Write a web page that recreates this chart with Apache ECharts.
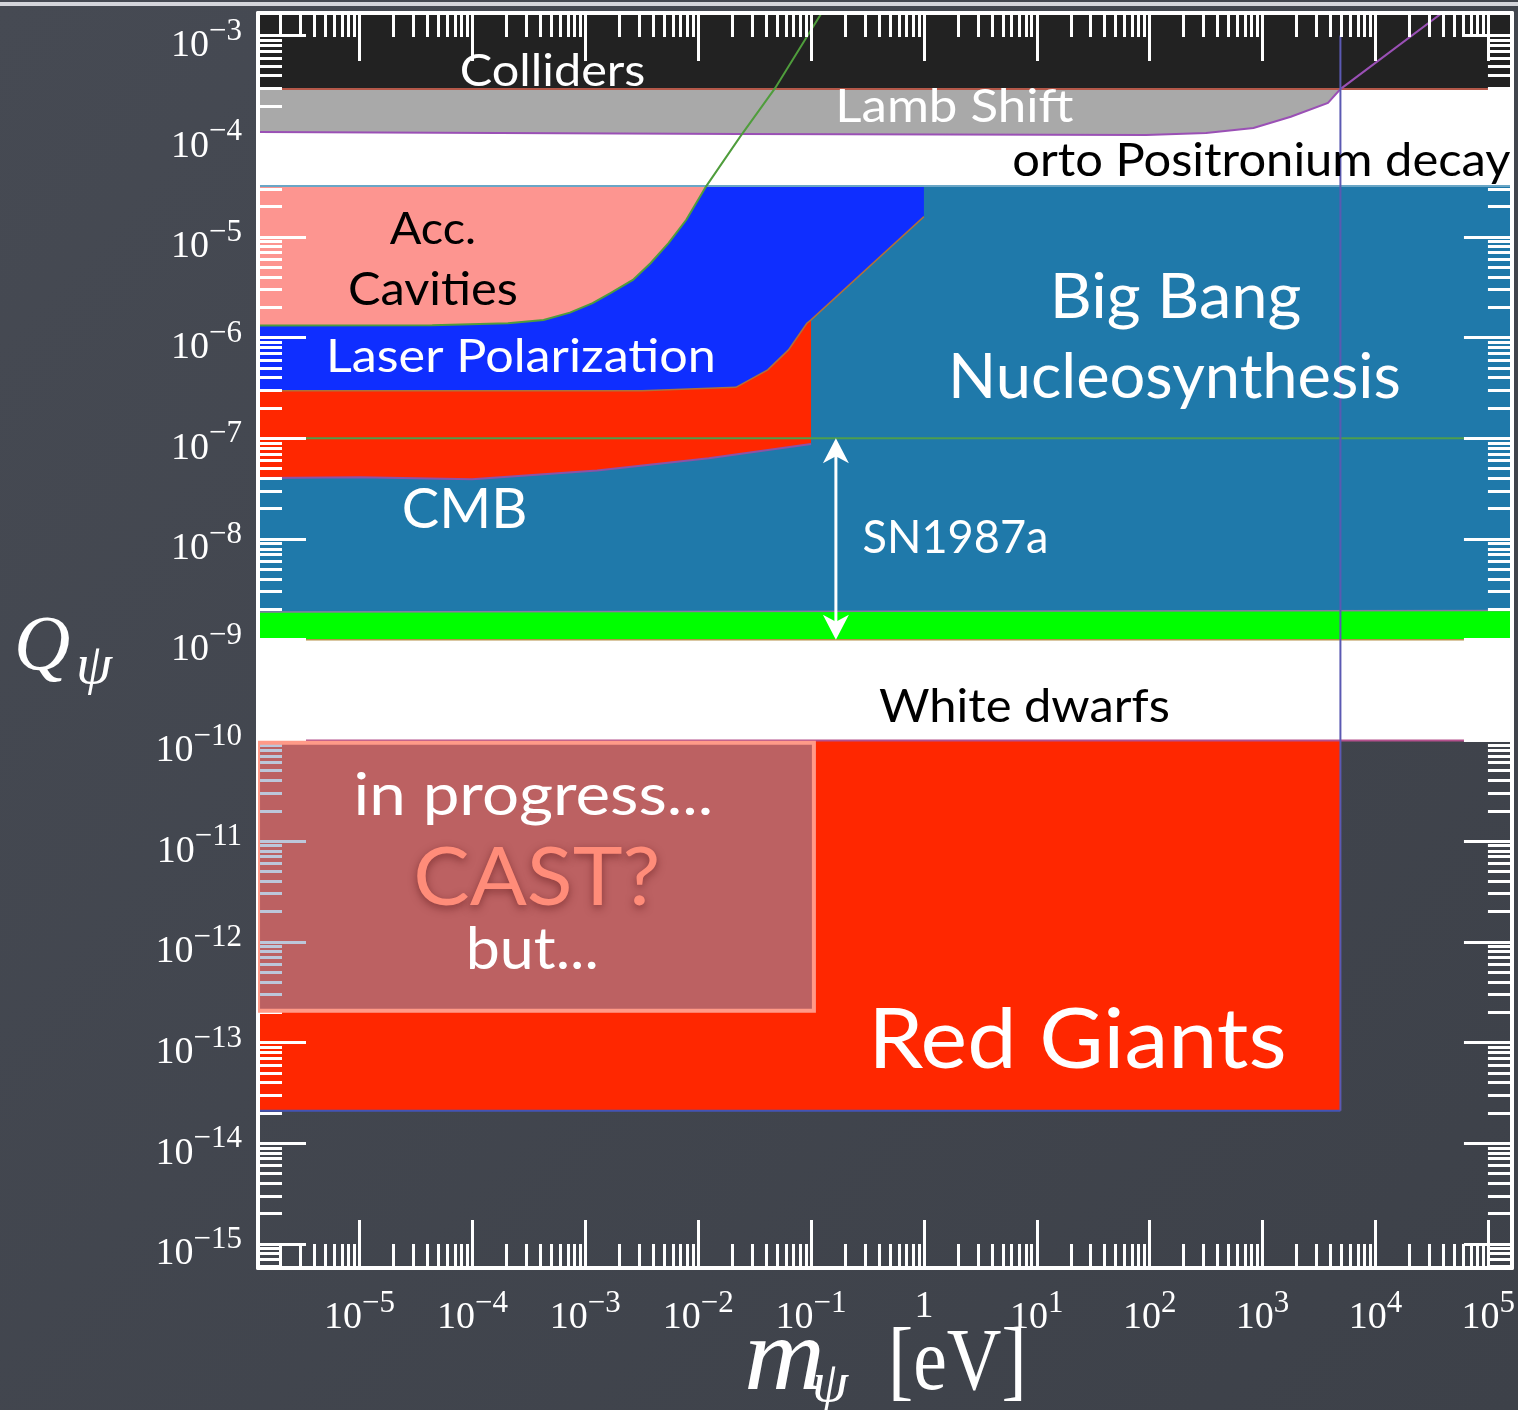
<!DOCTYPE html>
<html>
<head>
<meta charset="utf-8">
<title>Millicharged particle bounds</title>
<script src="https://cdn.jsdelivr.net/npm/echarts@6/dist/echarts.min.js"></script>
<style>
  html, body { margin: 0; padding: 0; background: #41454e; }
  #chart { width: 1518px; height: 1410px; }
</style>
</head>
<body>
<div id="chart"></div>
<script>
// Axis extents, in decades (log10 of m [eV] and of Q)
const X_MIN = -5.9, X_MAX = 5.21;
const Y_MIN = -15.24, Y_MAX = -2.776;

// Tick decades (labels are 10^k, with "1" for k = 0)
const xDecades = [-5, -4, -3, -2, -1, 0, 1, 2, 3, 4, 5];
const yDecades = [-15, -14, -13, -12, -11, -10, -9, -8, -7, -6, -5, -4, -3];

// Edges just outside the plotted range (clipped away)
const M_LEFT = 1e-6, M_RIGHT = 2e5, Q_CEIL = 2e-3;

// Colliders: excluded above this charge
const collidersQ = 2.94e-4;

// ortho-Positronium decay bound (lower edge of Lamb shift band, then a line)
const opsMass = [1e-6, 0.0234, 93, 316, 832, 1780, 3800, 4900, 4.1e4];
const opsQ    = [1.10e-4, 1.05e-4, 1.03e-4, 1.08e-4, 1.21e-4, 1.56e-4, 2.14e-4, 2.94e-4, 1.75e-3];

// Accelerator cavities bound (first 12 points close the shaded region)
const accMass = [1e-6, 4.4e-5, 2.06e-4, 4.27e-4, 7.3e-4, 1.16e-3, 1.67e-3, 2.64e-3, 3.78e-3, 5.46e-3, 7.85e-3, 0.0118, 0.0234, 0.048, 0.125];
const accQ    = [1.32e-6, 1.33e-6, 1.39e-6, 1.50e-6, 1.77e-6, 2.20e-6, 2.76e-6, 3.74e-6, 5.48e-6, 8.67e-6, 1.48e-5, 3.2e-5, 9.8e-5, 3.0e-4, 1.7e-3];

// Laser polarization bound
const laserMass = [1e-6, 3.16e-3, 0.0216, 0.0413, 0.0631, 0.0918, 0.1, 1.0];
const laserQ    = [2.96e-7, 2.96e-7, 3.21e-7, 4.78e-7, 7.55e-7, 1.39e-6, 1.5e-6, 1.59e-5];

// CMB bound (lower edge of the red band, m < 0.1 eV)
const cmbMass = [1e-6, 1.02e-5, 9.9e-5, 1.27e-3, 0.0124, 0.1];
const cmbQ    = [4.02e-8, 4.11e-8, 3.93e-8, 4.78e-8, 6.34e-8, 8.8e-8];

// Big Bang Nucleosynthesis: top of the excluded band
const bbnTopQ = 3.2e-5;

// Green band
const bandMass = [1e-6, 2e5];
const bandTopQ = [1.88e-9, 1.95e-9];
const bandBottomQ = 1e-9;

// Horizontal reference line
const refLineQ = 1e-7;

// SN1987a window (arrow)
const snMass = 0.166;
const snQ = [1e-7, 1e-9];

// White dwarfs: excluded above
const wdQ = 1e-10;

// Red giants
const rgMass = 4900;
const rgQ = [2.1e-14, 1e-10];
const rgLineQ = [1e-3, 2.1e-14];

// "in progress / CAST?" box
const castMass = [1.26e-6, 0.106];
const castQ = [2.07e-13, 9.5e-11];

const L = Math.log10;
const SERIF = "'Liberation Serif', 'DejaVu Serif', serif";
const HAND = "Lato, 'Open Sans', sans-serif";

const zip = (ms, qs) => ms.map((m, i) => [m, qs[i]]);
const ops = zip(opsMass, opsQ);
const acc = zip(accMass, accQ);
const laser = zip(laserMass, laserQ);
const cmb = zip(cmbMass, cmbQ);

function toCoords(api, pts) {
  return pts.map(p => api.coord([L(p[0]), L(p[1])]));
}

function polygonSeries(name, pts, style, z) {
  return {
    type: 'custom', name, z: z || 2, clip: true,
    data: pts.map(p => [L(p[0]), L(p[1])]),
    renderItem: (params, api) => params.dataIndex !== 0 ? null : ({
      type: 'polygon',
      shape: { points: toCoords(api, pts) },
      style
    })
  };
}

function lineSeries(name, pts, color, width, z) {
  return {
    type: 'custom', name, z: z || 3, clip: true,
    data: pts.map(p => [L(p[0]), L(p[1])]),
    renderItem: (params, api) => params.dataIndex !== 0 ? null : ({
      type: 'polyline',
      shape: { points: toCoords(api, pts) },
      style: { stroke: color, lineWidth: width, fill: null }
    })
  };
}

// Regions
const whiteRegion = [[M_LEFT, wdQ], [M_RIGHT, wdQ], [M_RIGHT, Q_CEIL], [M_LEFT, Q_CEIL]];
const bbnRegion = [[M_LEFT, bbnTopQ], [M_RIGHT, bbnTopQ], [bandMass[1], bandTopQ[1]], [bandMass[0], bandTopQ[0]]];
const bandRegion = [[bandMass[0], bandBottomQ], [bandMass[1], bandBottomQ], [bandMass[1], bandTopQ[1]], [bandMass[0], bandTopQ[0]]];
const colliderRegion = [[M_LEFT, collidersQ], [M_RIGHT, collidersQ], [M_RIGHT, Q_CEIL], [M_LEFT, Q_CEIL]];
const lambRegion = [[M_LEFT, collidersQ], [rgMass, collidersQ]].concat(ops.slice(0, 8).reverse());
const accRegion = [[M_LEFT, bbnTopQ]].concat(acc.slice(0, 12));
const laserRegion = acc.slice(0, 12).concat([[1, bbnTopQ]], laser.slice().reverse());
const redRegion = laser.slice(0, 7).concat(cmb.slice().reverse());
const rgRegion = [[M_LEFT, rgQ[0]], [rgMass, rgQ[0]], [rgMass, rgQ[1]], [M_LEFT, rgQ[1]]];
const castRegion = [[castMass[0], castQ[0]], [castMass[1], castQ[0]], [castMass[1], castQ[1]], [castMass[0], castQ[1]]];

// Text annotations, placed in decades (x = log10 m, y = log10 Q); sx = horizontal stretch
const notes = [
  { t: 'Colliders', x: -3.29, y: -3.36, size: 45, sx: 1.08, color: '#ffffff' },
  { t: 'Lamb Shift', x: 0.27, y: -3.71, size: 46, sx: 1.11, color: '#ffffff' },
  { t: 'orto Positronium decay', x: 2.99, y: -4.24, size: 47, sx: 1.04, color: '#000000' },
  { t: 'Acc.', x: -4.35, y: -4.93, size: 45, sx: 1.04, color: '#000000' },
  { t: 'Cavities', x: -4.35, y: -5.53, size: 46, sx: 1.06, color: '#000000' },
  { t: 'Laser Polarization', x: -3.57, y: -6.19, size: 47, sx: 1.07, color: '#ffffff' },
  { t: 'Big Bang', x: 2.23, y: -5.61, size: 62, sx: 1.05, color: '#ffffff' },
  { t: 'Nucleosynthesis', x: 2.22, y: -6.40, size: 62, sx: 1.02, color: '#ffffff' },
  { t: 'CMB', x: -4.07, y: -7.71, size: 56, sx: 1.0, color: '#ffffff' },
  { t: 'SN1987a', x: 0.28, y: -7.99, size: 46, sx: 0.98, color: '#ffffff' },
  { t: 'White dwarfs', x: 0.89, y: -9.67, size: 47, sx: 1.04, color: '#000000' },
  { t: 'in progress...', x: -3.46, y: -10.56, size: 58, sx: 1.13, color: '#ffffff' },
  { t: 'CAST?', x: -3.43, y: -11.37, size: 82, sx: 1.03, color: '#ff8c79', shadow: true },
  { t: 'but...', x: -3.47, y: -12.08, size: 58, sx: 1.05, color: '#ffffff' },
  { t: 'Red Giants', x: 1.36, y: -12.98, size: 84, sx: 1.05, color: '#ffffff' }
];

// Minor tick positions (2..9 within each decade)
function minorTicks(lo, hi) {
  const out = [];
  for (let k = Math.floor(lo); k <= Math.ceil(hi); k++) {
    for (let j = 2; j <= 9; j++) {
      const v = k + L(j);
      if (v > lo && v < hi) out.push(v);
    }
  }
  return out;
}
const xMinor = minorTicks(X_MIN, X_MAX);
const yMinor = minorTicks(Y_MIN, Y_MAX);

const tickStyle = { color: '#ffffff', width: 3 };
const frameStyle = { color: '#ffffff', width: 4 };
const labelRich = {
  b: { fontFamily: SERIF, fontSize: 38, color: '#ffffff', verticalAlign: 'bottom', lineHeight: 38 },
  s: { fontFamily: SERIF, fontSize: 31, color: '#ffffff', verticalAlign: 'bottom', padding: [0, 0, 18, 0] },
  o: { fontFamily: SERIF, fontSize: 38, color: '#ffffff' }
};
const expLabel = v => v === 0 ? '{o|1}' : (v > 0 ? '{b|10}{s|' + v + '}' : '{b|10}{s|\u2212' + (-v) + '}');

function axis(pos, major, showLine, showLabel) {
  const isX = pos === 'top' || pos === 'bottom';
  return {
    type: 'value', position: pos, z: 4,
    min: isX ? X_MIN : Y_MIN, max: isX ? X_MAX : Y_MAX,
    splitLine: { show: false },
    axisLine: { show: showLine, onZero: false, lineStyle: frameStyle },
    axisTick: {
      show: true, inside: true, length: major ? 48 : 24, lineStyle: tickStyle,
      customValues: major ? (isX ? xDecades : yDecades) : (isX ? xMinor : yMinor)
    },
    axisLabel: {
      show: showLabel, margin: isX ? 14 : 16,
      padding: isX ? [6, 0, 0, 0] : [10, 0, 0, 0],
      customValues: isX ? xDecades : yDecades,
      formatter: v => expLabel(Math.round(v)),
      rich: labelRich
    }
  };
}

const series = [
  polygonSeries('White dwarfs', whiteRegion, { fill: '#ffffff' }, 1),
  polygonSeries('Big Bang Nucleosynthesis', bbnRegion, { fill: '#1f79aa' }),
  polygonSeries('Green band', bandRegion, { fill: '#00ff00' }),
  polygonSeries('Colliders', colliderRegion, { fill: '#222222' }),
  polygonSeries('Lamb Shift', lambRegion, { fill: '#a9a9a9' }),
  polygonSeries('Acc. Cavities', accRegion, { fill: '#fd9590' }),
  polygonSeries('Laser Polarization', laserRegion, { fill: '#0f2eff' }),
  polygonSeries('CMB', redRegion, { fill: '#ff2700' }),
  polygonSeries('Red Giants', rgRegion, { fill: '#ff2700' }),
  lineSeries('BBN edge', [[M_LEFT, bbnTopQ], [M_RIGHT, bbnTopQ]], '#6aa6c6', 2),
  lineSeries('Colliders edge', [[M_LEFT, collidersQ], [M_RIGHT, collidersQ]], '#b5594a', 2),
  lineSeries('oPs', ops, '#9a50b5', 2),
  lineSeries('Acc edge', acc, '#4f9d3c', 2),
  lineSeries('Laser edge', laser, '#b0703a', 1.5),
  lineSeries('CMB edge', cmb, '#8d52a6', 2),
  lineSeries('Band top', zip(bandMass, bandTopQ), '#8a7aa0', 1.5),
  lineSeries('Band bottom', [[bandMass[0], bandBottomQ], [bandMass[1], bandBottomQ]], '#b49046', 1.5),
  lineSeries('Reference line', [[M_LEFT, refLineQ], [M_RIGHT, refLineQ]], '#4e9e4e', 2),
  lineSeries('WD edge', [[M_LEFT, wdQ], [M_RIGHT, wdQ]], '#b4508c', 2),
  lineSeries('RG bottom', [[M_LEFT, rgQ[0]], [rgMass, rgQ[0]]], '#4454b4', 2),
  lineSeries('RG line', [[rgMass, rgLineQ[0]], [rgMass, rgLineQ[1]]], '#5b59b2', 2),
  {
    type: 'custom', name: 'SN1987a', z: 3, clip: true,
    data: snQ.map(q => [L(snMass), L(q)]),
    renderItem: (params, api) => {
      if (params.dataIndex !== 0) return null;
      const a = api.coord([L(snMass), L(snQ[0])]);
      const b = api.coord([L(snMass), L(snQ[1])]);
      const head = (tip, dir) => ({
        type: 'polygon',
        shape: { points: [tip, [tip[0] - 13, tip[1] + dir * 25], [tip[0], tip[1] + dir * 18], [tip[0] + 13, tip[1] + dir * 25]] },
        style: { fill: '#ffffff' }
      });
      return {
        type: 'group',
        children: [
          { type: 'line', shape: { x1: a[0], y1: a[1] + 10, x2: b[0], y2: b[1] - 10 }, style: { stroke: '#ffffff', lineWidth: 3 } },
          head(a, 1), head(b, -1)
        ]
      };
    }
  },
  polygonSeries('CAST box', castRegion, { fill: 'rgba(129,150,185,0.53)', stroke: '#ff9a88', lineWidth: 4 }, 6),
  {
    type: 'custom', name: 'Labels', z: 7, clip: false,
    data: notes.map(n => [n.x, n.y]),
    renderItem: (params, api) => {
      const n = notes[params.dataIndex];
      const p = api.coord([n.x, n.y]);
      return {
        type: 'text', x: p[0], y: p[1], scaleX: n.sx,
        style: {
          text: n.t, fill: n.color,
          font: n.size + 'px ' + HAND,
          align: 'center', verticalAlign: 'middle',
          textShadowColor: n.shadow ? 'rgba(90,20,20,0.55)' : 'transparent',
          textShadowBlur: n.shadow ? 8 : 0,
          textShadowOffsetY: n.shadow ? 3 : 0
        }
      };
    }
  }
];

const white = '#ffffff';
const chart = echarts.init(document.getElementById('chart'));
chart.setOption({
  backgroundColor: {
    type: 'linear', x: 0, y: 0, x2: 1, y2: 1,
    colorStops: [{ offset: 0, color: '#464a53' }, { offset: 1, color: '#3d4149' }]
  },
  animation: false,
  grid: { left: 258, right: 6, top: 13, bottom: 142 },
  xAxis: [
    axis('bottom', true, true, true),
    axis('bottom', false, false, false),
    axis('top', true, true, false),
    axis('top', false, false, false)
  ],
  yAxis: [
    axis('left', true, true, true),
    axis('left', false, false, false),
    axis('right', true, true, false),
    axis('right', false, false, false)
  ],
  graphic: [
    { type: 'rect', silent: true, shape: { x: 0, y: 2, width: 1518, height: 4 }, style: { fill: '#d4d5db' } },
    // y-axis title: Q_psi
    { type: 'text', x: 14, y: 648, silent: true,
      style: { text: 'Q', font: 'italic 78px ' + SERIF, fill: white, align: 'left', verticalAlign: 'middle' } },
    { type: 'text', x: 76, y: 668, silent: true,
      style: { text: '\u03c8', font: 'italic 58px ' + SERIF, fill: white, align: 'left', verticalAlign: 'middle' } },
    // x-axis title: m_psi [eV]
    { type: 'text', x: 744, y: 1362, scaleX: 1.08, silent: true,
      style: { text: 'm', font: 'italic 104px ' + SERIF, fill: white, align: 'left', verticalAlign: 'middle' } },
    { type: 'text', x: 812, y: 1386, silent: true,
      style: { text: '\u03c8', font: 'italic 58px ' + SERIF, fill: white, align: 'left', verticalAlign: 'middle' } },
    { type: 'text', x: 888, y: 1366, scaleX: 0.86, silent: true,
      style: { text: '[eV]', font: '88px ' + SERIF, fill: white, align: 'left', verticalAlign: 'middle' } }
  ],
  series
});
</script>
</body>
</html>
